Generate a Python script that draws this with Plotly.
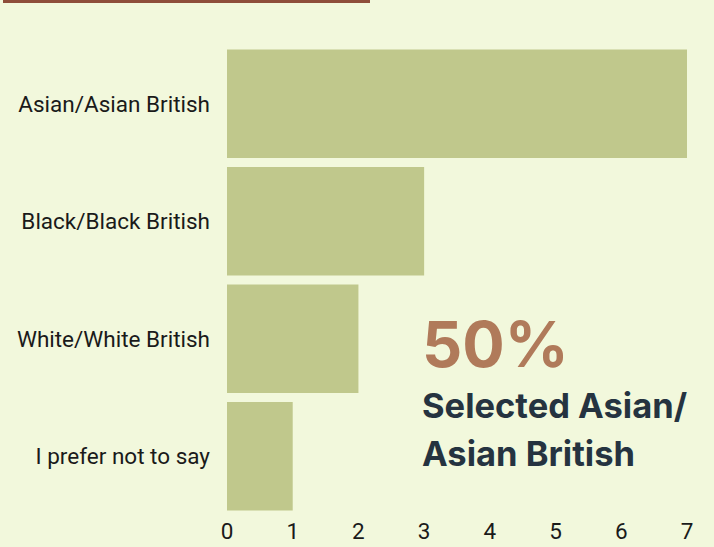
import plotly.graph_objects as go

categories = ["Asian/Asian British", "Black/Black British", "White/White British", "I prefer not to say"]
values = [7, 3, 2, 1]
tick_vals = [0, 1, 2, 3, 4, 5, 6, 7]

BG = "#F2F8DC"
BAR = "#C0C88C"

fig = go.Figure(go.Bar(
    y=categories, x=values, orientation="h",
    marker=dict(color=BAR, line=dict(width=0)),
    hoverinfo="skip",
))

L, R, T, B = 227, 27, 45, 32
W, H = 714, 547
pw, ph = W - L - R, H - T - B

def px(x):
    return (x - L) / pw

def py(y):
    return (H - B - y) / ph

fig.update_layout(
    width=W, height=H,
    margin=dict(l=L, r=R, t=T, b=B, autoexpand=False),
    paper_bgcolor=BG, plot_bgcolor=BG,
    bargap=0.077,
    showlegend=False,
    font=dict(family="Roboto", size=22.5, color="#1a1a1a"),
    xaxis=dict(range=[0, 7], tickvals=tick_vals, showgrid=False, zeroline=False,
               showline=False, ticks="", tickfont=dict(size=22.5, family="Roboto"),
               automargin=False, fixedrange=True),
    yaxis=dict(autorange="reversed", showgrid=False, zeroline=False, showline=False,
               ticks="", ticklabelstandoff=16, tickfont=dict(size=22.5, family="Roboto"),
               automargin=False),
    shapes=[dict(type="rect", xref="paper", yref="paper",
                 x0=px(3), x1=px(370), y0=py(3), y1=py(0),
                 fillcolor="#8E4E3A", line=dict(width=0), layer="above")],
    annotations=[
        dict(text="<b>50%</b>", xref="paper", yref="paper", x=px(420), y=py(384),
             xanchor="left", yanchor="bottom", showarrow=False,
             font=dict(family="Inter", size=63, color="#B07A5A")),
        dict(text="<b>Selected Asian/</b>", xref="paper", yref="paper", x=px(420), y=py(428),
             xanchor="left", yanchor="bottom", showarrow=False,
             font=dict(family="Inter", size=34.5, color="#253340")),
        dict(text="<b>Asian British</b>", xref="paper", yref="paper", x=px(420), y=py(476),
             xanchor="left", yanchor="bottom", showarrow=False,
             font=dict(family="Inter", size=34.5, color="#253340")),
    ],
)

fig.write_html("out.html")
